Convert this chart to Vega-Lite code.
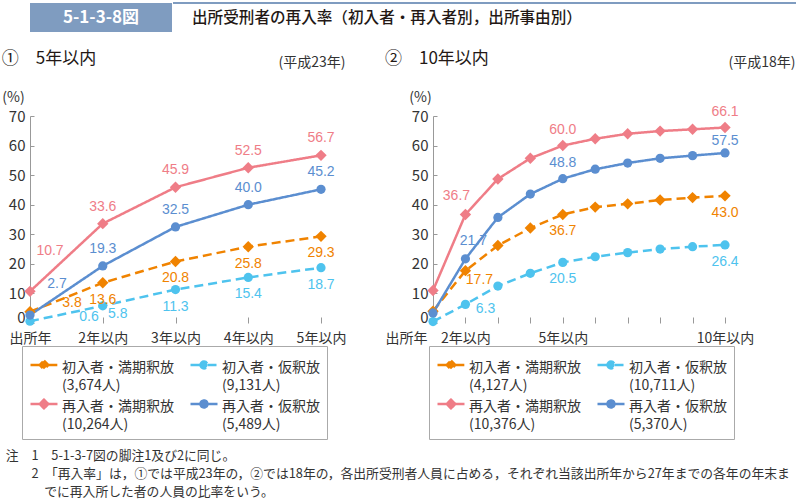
{
  "$schema": "https://vega.github.io/schema/vega-lite/v6.json",
  "padding": {"left": 1, "top": 2, "right": 0, "bottom": 0},
  "background": "white",
  "config": {
    "view": {"stroke": null},
    "font": "Noto Sans CJK JP",
    "axis": {"labelFont": "Noto Sans CJK JP", "labelFontSize": 14, "labelColor": "#333333", "domainColor": "#999999", "tickColor": "#999999", "grid": false, "titleFont": "Noto Sans CJK JP", "titleFontWeight": "normal", "titleColor": "#333333", "titleFontSize": 14},
    "legend": {"labelFont": "Noto Sans CJK JP"},
    "title": {"font": "Noto Sans CJK JP"}
  },
  "datasets": {
    "p5": [
      {"series": "初入者・満期釈放", "idx": 0, "value": 3.8}, {"series": "初入者・満期釈放", "idx": 1, "value": 13.6}, {"series": "初入者・満期釈放", "idx": 2, "value": 20.8}, {"series": "初入者・満期釈放", "idx": 3, "value": 25.8}, {"series": "初入者・満期釈放", "idx": 4, "value": 29.3},
      {"series": "初入者・仮釈放", "idx": 0, "value": 0.6}, {"series": "初入者・仮釈放", "idx": 1, "value": 5.8}, {"series": "初入者・仮釈放", "idx": 2, "value": 11.3}, {"series": "初入者・仮釈放", "idx": 3, "value": 15.4}, {"series": "初入者・仮釈放", "idx": 4, "value": 18.7},
      {"series": "再入者・満期釈放", "idx": 0, "value": 10.7}, {"series": "再入者・満期釈放", "idx": 1, "value": 33.6}, {"series": "再入者・満期釈放", "idx": 2, "value": 45.9}, {"series": "再入者・満期釈放", "idx": 3, "value": 52.5}, {"series": "再入者・満期釈放", "idx": 4, "value": 56.7},
      {"series": "再入者・仮釈放", "idx": 0, "value": 2.7}, {"series": "再入者・仮釈放", "idx": 1, "value": 19.3}, {"series": "再入者・仮釈放", "idx": 2, "value": 32.5}, {"series": "再入者・仮釈放", "idx": 3, "value": 40.0}, {"series": "再入者・仮釈放", "idx": 4, "value": 45.2}
    ],
    "p10": [
      {"series": "初入者・満期釈放", "idx": 0, "value": 4.0}, {"series": "初入者・満期釈放", "idx": 1, "value": 17.7}, {"series": "初入者・満期釈放", "idx": 2, "value": 26.2}, {"series": "初入者・満期釈放", "idx": 3, "value": 32.1}, {"series": "初入者・満期釈放", "idx": 4, "value": 36.7}, {"series": "初入者・満期釈放", "idx": 5, "value": 39.2}, {"series": "初入者・満期釈放", "idx": 6, "value": 40.3}, {"series": "初入者・満期釈放", "idx": 7, "value": 41.6}, {"series": "初入者・満期釈放", "idx": 8, "value": 42.4}, {"series": "初入者・満期釈放", "idx": 9, "value": 43.0},
      {"series": "初入者・仮釈放", "idx": 0, "value": 0.5}, {"series": "初入者・仮釈放", "idx": 1, "value": 6.3}, {"series": "初入者・仮釈放", "idx": 2, "value": 12.5}, {"series": "初入者・仮釈放", "idx": 3, "value": 16.8}, {"series": "初入者・仮釈放", "idx": 4, "value": 20.5}, {"series": "初入者・仮釈放", "idx": 5, "value": 22.4}, {"series": "初入者・仮釈放", "idx": 6, "value": 23.8}, {"series": "初入者・仮釈放", "idx": 7, "value": 25.0}, {"series": "初入者・仮釈放", "idx": 8, "value": 25.8}, {"series": "初入者・仮釈放", "idx": 9, "value": 26.4},
      {"series": "再入者・満期釈放", "idx": 0, "value": 11.0}, {"series": "再入者・満期釈放", "idx": 1, "value": 36.7}, {"series": "再入者・満期釈放", "idx": 2, "value": 48.7}, {"series": "再入者・満期釈放", "idx": 3, "value": 55.7}, {"series": "再入者・満期釈放", "idx": 4, "value": 60.0}, {"series": "再入者・満期釈放", "idx": 5, "value": 62.3}, {"series": "再入者・満期釈放", "idx": 6, "value": 64.0}, {"series": "再入者・満期釈放", "idx": 7, "value": 64.9}, {"series": "再入者・満期釈放", "idx": 8, "value": 65.5}, {"series": "再入者・満期釈放", "idx": 9, "value": 66.1},
      {"series": "再入者・仮釈放", "idx": 0, "value": 3.4}, {"series": "再入者・仮釈放", "idx": 1, "value": 21.7}, {"series": "再入者・仮釈放", "idx": 2, "value": 35.7}, {"series": "再入者・仮釈放", "idx": 3, "value": 43.6}, {"series": "再入者・仮釈放", "idx": 4, "value": 48.8}, {"series": "再入者・仮釈放", "idx": 5, "value": 52.0}, {"series": "再入者・仮釈放", "idx": 6, "value": 54.1}, {"series": "再入者・仮釈放", "idx": 7, "value": 55.7}, {"series": "再入者・仮釈放", "idx": 8, "value": 56.6}, {"series": "再入者・仮釈放", "idx": 9, "value": 57.5}
    ]
  },
  "title": {
    "text": ["注　1　5-1-3-7図の脚注1及び2に同じ。", "\u200b　　2　「再入率」は，①では平成23年の，②では18年の，各出所受刑者人員に占める，それぞれ当該出所年から27年までの各年の年末ま", "\u200b　　　でに再入所した者の人員の比率をいう。"],
    "orient": "bottom", "anchor": "start", "frame": "bounds", "fontSize": 12.8, "fontWeight": "normal", "color": "#333333", "lineHeight": 18, "offset": 10, "dx": 4
  },
  "spacing": 18,
  "vconcat": [
    {
      "spacing": 0,
      "hconcat": [
        {
          "width": 142, "height": 29,
          "view": {"fill": "#7f9cc0", "stroke": null},
          "data": {"values": [{"t": "5-1-3-8図"}]},
          "mark": {"type": "text", "color": "white", "fontSize": 17, "fontWeight": "bold", "font": "Noto Sans CJK JP"},
          "encoding": {"text": {"field": "t", "type": "nominal"}}
        },
        {
          "width": 653, "height": 29,
          "data": {"values": [{"t": "出所受刑者の再入率（初入者・再入者別，出所事由別）"}]},
          "layer": [
            {"mark": {"type": "rule", "color": "#7f9cc0", "strokeWidth": 2}, "encoding": {"y": {"datum": 1, "type": "quantitative", "scale": {"domain": [0, 1]}, "axis": null}}},
            {"mark": {"type": "text", "align": "left", "dx": 19, "fontSize": 15.6, "fontWeight": 500, "color": "#231815", "font": "Noto Sans CJK JP"}, "encoding": {"text": {"field": "t", "type": "nominal"}, "x": {"datum": 0, "type": "quantitative", "scale": {"domain": [0, 1]}, "axis": null}}}
          ]
        }
      ]
    },
    {
      "spacing": 39,
      "resolve": {"scale": {"x": "independent", "y": "independent", "color": "independent", "strokeDash": "independent"}, "legend": {"color": "independent"}, "axis": {"x": "independent", "y": "independent"}},
      "hconcat": [
        {
          "width": 291, "height": 207,
          "title": {"text": "①　5年以内", "anchor": "start", "frame": "bounds", "fontSize": 17, "fontWeight": "normal", "color": "#231815", "offset": -13},
          "data": {"name": "p5"},
          "resolve": {"axis": {"x": "independent"}},
          "encoding": {
            "x": {"field": "idx", "type": "quantitative", "scale": {"domain": [0, 4], "nice": false, "zero": false}, "axis": null},
            "y": {"field": "value", "type": "quantitative", "scale": {"domain": [0, 70], "nice": false}, "axis": {"values": [0, 10, 20, 30, 40, 50, 60, 70], "tickSize": -4, "labelPadding": 9, "title": "(%)", "titleAngle": 0, "titleX": -17, "titleY": -19, "titleAlign": "center", "titleBaseline": "middle", "labelFontSize": 15, "labelOffset": {"condition": {"test": "datum.value == 0", "value": -6}, "value": 0}}},
            "color": {"field": "series", "type": "nominal", "scale": {"domain": ["初入者・満期釈放", "初入者・仮釈放", "再入者・満期釈放", "再入者・仮釈放"], "range": ["#f08300", "#4ec3ee", "#ef7d87", "#5b8ed0"]}, "legend": null}
          },
          "layer": [
            {
              "mark": {"type": "line", "strokeWidth": 2.5},
              "encoding": {
                "x": {"field": "idx", "type": "quantitative", "scale": {"domain": [0, 4], "nice": false, "zero": false}, "axis": {"values": [0, 1, 2, 3, 4], "labelExpr": "datum.value == 0 ? '出所年' : (datum.value + 1) + '年以内'", "domain": false, "tickSize": -6, "labelPadding": 14, "labelFlush": false, "labelOverlap": false, "title": null}},
                "color": {"field": "series", "type": "nominal", "scale": {"domain": ["初入者・満期釈放", "初入者・仮釈放", "再入者・満期釈放", "再入者・仮釈放"], "range": ["#f08300", "#4ec3ee", "#ef7d87", "#5b8ed0"]},
                  "legend": {"orient": "none", "legendX": -8, "legendY": 230, "title": null, "direction": "horizontal", "columns": 2, "gridAlign": "none", "columnPadding": 11, "rowPadding": -1, "padding": 7, "strokeColor": "#aaaaaa", "symbolSize": 729, "labelOffset": 3, "labelFontSize": 14, "labelColor": "#333333", "labelLimit": 300,
                    "labelExpr": "[datum.label, datum.label == '初入者・満期釈放' ? '(3,674人)' : datum.label == '初入者・仮釈放' ? '(9,131人)' : datum.label == '再入者・満期釈放' ? '(10,264人)' : '(5,489人)']",
                    "encode": {
                      "labels": {"update": {"lineHeight": {"value": 18}}},
                      "symbols": {"update": {
                        "shape": {"signal": "indexof(datum.value, '満期') >= 0 ? 'M-1,-0.222L-0.32,-0.222M0.32,-0.222L1,-0.222M0,-0.542L0.32,-0.222L0,0.098L-0.32,-0.222Z' : 'M-1,-0.222L-0.26,-0.222M0.26,-0.222L1,-0.222M-0.26,-0.222A0.26,0.26,0,1,1,0.26,-0.222A0.26,0.26,0,1,1,-0.26,-0.222Z'"},
                        "stroke": {"signal": "datum.value == '初入者・満期釈放' ? '#f08300' : datum.value == '初入者・仮釈放' ? '#4ec3ee' : datum.value == '再入者・満期釈放' ? '#ef7d87' : '#5b8ed0'"},
                        "fill": {"signal": "datum.value == '初入者・満期釈放' ? '#f08300' : datum.value == '初入者・仮釈放' ? '#4ec3ee' : datum.value == '再入者・満期釈放' ? '#ef7d87' : '#5b8ed0'"},
                        "strokeDash": {"signal": "indexof(datum.value, '初入者') >= 0 ? [4, 3] : [1, 0]"},
                        "strokeWidth": {"value": 2.5},
                        "size": {"value": 729},
                        "opacity": {"value": 1}
                      }}
                    }
                  }
                },
                "strokeDash": {"field": "series", "type": "nominal", "scale": {"domain": ["初入者・満期釈放", "初入者・仮釈放", "再入者・満期釈放", "再入者・仮釈放"], "range": [[9, 5], [9, 5], [1, 0], [1, 0]]}, "legend": null}
              }
            },
            {"transform": [{"filter": "indexof(datum.series, '満期') >= 0"}], "mark": {"type": "point", "shape": "diamond", "filled": true, "size": 130, "opacity": 1}, "encoding": {}},
            {"transform": [{"filter": "indexof(datum.series, '仮釈放') >= 0"}], "mark": {"type": "point", "shape": "circle", "filled": true, "size": 85, "opacity": 1}, "encoding": {}},
            {"transform": [{"filter": "indexof(datum.series, '再入者') >= 0 && datum.idx >= 1"}],
             "mark": {"type": "text", "dy": -17, "fontSize": 14, "font": "'Liberation Sans Narrow', 'Liberation Sans', sans-serif"},
             "encoding": {"text": {"field": "value", "type": "quantitative", "format": ".1f"},
               "x": {"field": "idx", "type": "quantitative", "scale": {"domain": [0, 4], "nice": false, "zero": false}, "axis": {"orient": "top", "domain": false, "ticks": false, "labels": false, "title": "(平成23年)", "titleX": 315, "titleY": -54, "titleAlign": "right", "titleBaseline": "middle", "titleFontSize": 14}}}},
            {"transform": [{"filter": "(datum.series == '初入者・満期釈放' && datum.idx >= 1) || (datum.series == '初入者・仮釈放' && datum.idx >= 2)"}],
             "mark": {"type": "text", "dy": 17, "fontSize": 14, "font": "'Liberation Sans Narrow', 'Liberation Sans', sans-serif"},
             "encoding": {"text": {"field": "value", "type": "quantitative", "format": ".1f"}}},
            {"transform": [{"filter": "datum.series == '再入者・満期釈放' && datum.idx == 0"}],
             "mark": {"type": "text", "dx": 20, "dy": -40, "fontSize": 14, "font": "'Liberation Sans Narrow', 'Liberation Sans', sans-serif"},
             "encoding": {"text": {"field": "value", "type": "quantitative", "format": ".1f"}}},
            {"transform": [{"filter": "datum.series == '再入者・仮釈放' && datum.idx == 0"}],
             "mark": {"type": "text", "dx": 27, "dy": -31, "fontSize": 14, "font": "'Liberation Sans Narrow', 'Liberation Sans', sans-serif"},
             "encoding": {"text": {"field": "value", "type": "quantitative", "format": ".1f"}}},
            {"transform": [{"filter": "datum.series == '初入者・満期釈放' && datum.idx == 0"}],
             "mark": {"type": "text", "dx": 42, "dy": -9, "fontSize": 14, "font": "'Liberation Sans Narrow', 'Liberation Sans', sans-serif"},
             "encoding": {"text": {"field": "value", "type": "quantitative", "format": ".1f"}}},
            {"transform": [{"filter": "datum.series == '初入者・仮釈放' && datum.idx == 0"}],
             "mark": {"type": "text", "dx": 59, "dy": -4, "fontSize": 14, "font": "'Liberation Sans Narrow', 'Liberation Sans', sans-serif"},
             "encoding": {"text": {"field": "value", "type": "quantitative", "format": ".1f"}}},
            {"transform": [{"filter": "datum.series == '初入者・仮釈放' && datum.idx == 1"}],
             "mark": {"type": "text", "dx": 15, "dy": 8, "fontSize": 14, "font": "'Liberation Sans Narrow', 'Liberation Sans', sans-serif"},
             "encoding": {"text": {"field": "value", "type": "quantitative", "format": ".1f"}}}
          ]
        },
        {
          "width": 292, "height": 207,
          "title": {"text": "②　10年以内", "anchor": "start", "frame": "bounds", "fontSize": 17, "fontWeight": "normal", "color": "#231815", "offset": -13},
          "data": {"name": "p10"},
          "resolve": {"axis": {"x": "independent"}},
          "encoding": {
            "x": {"field": "idx", "type": "quantitative", "scale": {"domain": [0, 9], "nice": false, "zero": false}, "axis": null},
            "y": {"field": "value", "type": "quantitative", "scale": {"domain": [0, 70], "nice": false}, "axis": {"values": [0, 10, 20, 30, 40, 50, 60, 70], "tickSize": -4, "labelPadding": 9, "title": "(%)", "titleAngle": 0, "titleX": -13, "titleY": -19, "titleAlign": "center", "titleBaseline": "middle", "labelFontSize": 15, "labelOffset": {"condition": {"test": "datum.value == 0", "value": -6}, "value": 0}}},
            "color": {"field": "series", "type": "nominal", "scale": {"domain": ["初入者・満期釈放", "初入者・仮釈放", "再入者・満期釈放", "再入者・仮釈放"], "range": ["#f08300", "#4ec3ee", "#ef7d87", "#5b8ed0"]}, "legend": null}
          },
          "layer": [
            {
              "mark": {"type": "line", "strokeWidth": 2.5},
              "encoding": {
                "x": {"field": "idx", "type": "quantitative", "scale": {"domain": [0, 9], "nice": false, "zero": false}, "axis": {"values": [0, 1, 2, 3, 4, 5, 6, 7, 8, 9], "labelExpr": "datum.value == 0 ? '出所年' : datum.value == 1 ? '2年以内' : datum.value == 4 ? '5年以内' : datum.value == 9 ? '10年以内' : ''", "domain": false, "tickSize": -6, "labelPadding": 14, "labelFlush": false, "labelOverlap": false, "title": null, "labelAlign": {"condition": {"test": "datum.value == 0", "value": "right"}, "value": "center"}, "labelOffset": {"condition": {"test": "datum.value == 0", "value": -6}, "value": 0}}},
                "color": {"field": "series", "type": "nominal", "scale": {"domain": ["初入者・満期釈放", "初入者・仮釈放", "再入者・満期釈放", "再入者・仮釈放"], "range": ["#f08300", "#4ec3ee", "#ef7d87", "#5b8ed0"]},
                  "legend": {"orient": "none", "legendX": -4, "legendY": 230, "title": null, "direction": "horizontal", "columns": 2, "gridAlign": "none", "columnPadding": 11, "rowPadding": -1, "padding": 7, "strokeColor": "#aaaaaa", "symbolSize": 729, "labelOffset": 3, "labelFontSize": 14, "labelColor": "#333333", "labelLimit": 300,
                    "labelExpr": "[datum.label, datum.label == '初入者・満期釈放' ? '(4,127人)' : datum.label == '初入者・仮釈放' ? '(10,711人)' : datum.label == '再入者・満期釈放' ? '(10,376人)' : '(5,370人)']",
                    "encode": {
                      "labels": {"update": {"lineHeight": {"value": 18}}},
                      "symbols": {"update": {
                        "shape": {"signal": "indexof(datum.value, '満期') >= 0 ? 'M-1,-0.222L-0.32,-0.222M0.32,-0.222L1,-0.222M0,-0.542L0.32,-0.222L0,0.098L-0.32,-0.222Z' : 'M-1,-0.222L-0.26,-0.222M0.26,-0.222L1,-0.222M-0.26,-0.222A0.26,0.26,0,1,1,0.26,-0.222A0.26,0.26,0,1,1,-0.26,-0.222Z'"},
                        "stroke": {"signal": "datum.value == '初入者・満期釈放' ? '#f08300' : datum.value == '初入者・仮釈放' ? '#4ec3ee' : datum.value == '再入者・満期釈放' ? '#ef7d87' : '#5b8ed0'"},
                        "fill": {"signal": "datum.value == '初入者・満期釈放' ? '#f08300' : datum.value == '初入者・仮釈放' ? '#4ec3ee' : datum.value == '再入者・満期釈放' ? '#ef7d87' : '#5b8ed0'"},
                        "strokeDash": {"signal": "indexof(datum.value, '初入者') >= 0 ? [4, 3] : [1, 0]"},
                        "strokeWidth": {"value": 2.5},
                        "size": {"value": 729},
                        "opacity": {"value": 1}
                      }}
                    }
                  }
                },
                "strokeDash": {"field": "series", "type": "nominal", "scale": {"domain": ["初入者・満期釈放", "初入者・仮釈放", "再入者・満期釈放", "再入者・仮釈放"], "range": [[9, 5], [9, 5], [1, 0], [1, 0]]}, "legend": null}
              }
            },
            {"transform": [{"filter": "indexof(datum.series, '満期') >= 0"}], "mark": {"type": "point", "shape": "diamond", "filled": true, "size": 130, "opacity": 1}, "encoding": {}},
            {"transform": [{"filter": "indexof(datum.series, '仮釈放') >= 0"}], "mark": {"type": "point", "shape": "circle", "filled": true, "size": 85, "opacity": 1}, "encoding": {}},
            {"transform": [{"filter": "(datum.series == '再入者・満期釈放' && (datum.idx == 4 || datum.idx == 9)) || (datum.series == '再入者・仮釈放' && datum.idx == 4)"}],
             "mark": {"type": "text", "dy": -16, "fontSize": 14, "font": "'Liberation Sans Narrow', 'Liberation Sans', sans-serif"},
             "encoding": {"text": {"field": "value", "type": "quantitative", "format": ".1f"},
               "x": {"field": "idx", "type": "quantitative", "scale": {"domain": [0, 9], "nice": false, "zero": false}, "axis": {"orient": "top", "domain": false, "ticks": false, "labels": false, "title": "(平成18年)", "titleX": 362, "titleY": -54, "titleAlign": "right", "titleBaseline": "middle", "titleFontSize": 14}}}},
            {"transform": [{"filter": "indexof(datum.series, '初入者') >= 0 && (datum.idx == 4 || datum.idx == 9)"}],
             "mark": {"type": "text", "dy": 17, "fontSize": 14, "font": "'Liberation Sans Narrow', 'Liberation Sans', sans-serif"},
             "encoding": {"text": {"field": "value", "type": "quantitative", "format": ".1f"}}},
            {"transform": [{"filter": "datum.series == '再入者・仮釈放' && datum.idx == 9"}],
             "mark": {"type": "text", "dy": -12, "fontSize": 14, "font": "'Liberation Sans Narrow', 'Liberation Sans', sans-serif"},
             "encoding": {"text": {"field": "value", "type": "quantitative", "format": ".1f"}}},
            {"transform": [{"filter": "datum.series == '再入者・満期釈放' && datum.idx == 1"}],
             "mark": {"type": "text", "dx": -9, "dy": -18, "fontSize": 14, "font": "'Liberation Sans Narrow', 'Liberation Sans', sans-serif"},
             "encoding": {"text": {"field": "value", "type": "quantitative", "format": ".1f"}}},
            {"transform": [{"filter": "datum.series == '再入者・仮釈放' && datum.idx == 1"}],
             "mark": {"type": "text", "dx": 8, "dy": -18, "fontSize": 14, "font": "'Liberation Sans Narrow', 'Liberation Sans', sans-serif"},
             "encoding": {"text": {"field": "value", "type": "quantitative", "format": ".1f"}}},
            {"transform": [{"filter": "datum.series == '初入者・満期釈放' && datum.idx == 1"}],
             "mark": {"type": "text", "dx": 14, "dy": 9, "fontSize": 14, "font": "'Liberation Sans Narrow', 'Liberation Sans', sans-serif"},
             "encoding": {"text": {"field": "value", "type": "quantitative", "format": ".1f"}}},
            {"transform": [{"filter": "datum.series == '初入者・仮釈放' && datum.idx == 1"}],
             "mark": {"type": "text", "dx": 20, "dy": 5, "fontSize": 14, "font": "'Liberation Sans Narrow', 'Liberation Sans', sans-serif"},
             "encoding": {"text": {"field": "value", "type": "quantitative", "format": ".1f"}}}
          ]
        }
      ]
    }
  ]
}
